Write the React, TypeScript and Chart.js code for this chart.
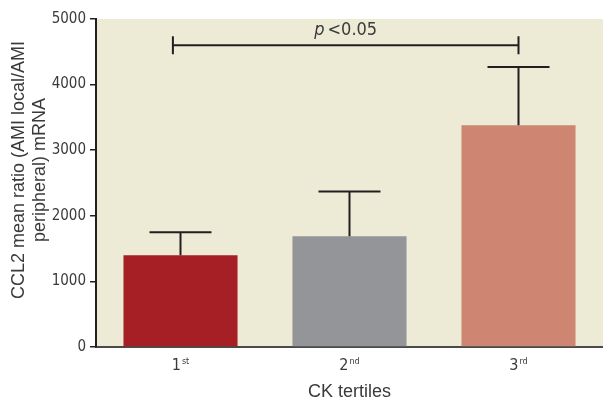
import React, { useEffect, useRef } from "react";
import { Chart, registerables } from "chart.js";

Chart.register(...registerables);

const categories = ["1", "2", "3"];
const superscripts = ["st", "nd", "rd"];
const meanValues = [1400, 1690, 3380];
const errorTops = [1750, 2370, 4270];
const barColors = ["#A61F24", "#939598", "#CE8672"];
const yTicks = [0, 1000, 2000, 3000, 4000, 5000];
const bracket = { from: -0.045, to: 2.0, y: 4600, label: "<0.05" };
const yTitleLines = ["CCL2 mean ratio (AMI local/AMI", "peripheral) mRNA"];
const xTitle = "CK tertiles";

const NARROW = "'Liberation Sans Narrow', 'DejaVu Sans Condensed', 'Liberation Sans', sans-serif";
const SANS = "'Liberation Sans', Arial, sans-serif";
const TEXT = "#3a3a3a";
const INK = "#231f20";

const decorPlugin = {
  id: "decor",
  beforeDraw(chart: any) {
    const { ctx, chartArea } = chart;
    ctx.save();
    ctx.fillStyle = "#EDEAD6";
    ctx.fillRect(chartArea.left, chartArea.top, chartArea.right - chartArea.left, chartArea.bottom - chartArea.top);
    ctx.restore();
  },
  afterDraw(chart: any) {
    const { ctx, chartArea } = chart;
    const xs = chart.scales.x;
    const ys = chart.scales.y;
    ctx.save();
    // error bars
    ctx.strokeStyle = INK;
    ctx.lineWidth = 2;
    meanValues.forEach((v, i) => {
      const cx = xs.getPixelForValue(i);
      const y0 = ys.getPixelForValue(v);
      const y1 = ys.getPixelForValue(errorTops[i]);
      ctx.beginPath();
      ctx.moveTo(cx, y0);
      ctx.lineTo(cx, y1);
      ctx.moveTo(cx - 31, y1);
      ctx.lineTo(cx + 31, y1);
      ctx.stroke();
    });
    // significance bracket
    const bx0 = xs.getPixelForValue(bracket.from);
    const bx1 = xs.getPixelForValue(bracket.to);
    const by = ys.getPixelForValue(bracket.y);
    ctx.beginPath();
    ctx.moveTo(bx0, by);
    ctx.lineTo(bx1, by);
    ctx.moveTo(bx0, by - 9);
    ctx.lineTo(bx0, by + 9);
    ctx.moveTo(bx1, by - 9);
    ctx.lineTo(bx1, by + 9);
    ctx.stroke();
    ctx.fillStyle = TEXT;
    ctx.textBaseline = "alphabetic";
    ctx.font = `italic 18px ${NARROW}`;
    const pW = ctx.measureText("p").width;
    ctx.font = `18px ${NARROW}`;
    const restW = ctx.measureText(bracket.label).width;
    const total = pW + 3 + restW;
    const mid = (bx0 + bx1) / 2;
    ctx.textAlign = "left";
    ctx.font = `italic 18px ${NARROW}`;
    ctx.fillText("p", mid - total / 2, by - 10);
    ctx.font = `18px ${NARROW}`;
    ctx.fillText(bracket.label, mid - total / 2 + pW + 3, by - 10);
    // x tick labels with superscripts
    categories.forEach((c, i) => {
      const cx = xs.getPixelForValue(i);
      ctx.font = `16px ${NARROW}`;
      const w1 = ctx.measureText(c).width;
      ctx.font = `9px ${NARROW}`;
      const w2 = ctx.measureText(superscripts[i]).width;
      const start = cx - (w1 + w2 + 1) / 2;
      ctx.textBaseline = "alphabetic";
      ctx.font = `16px ${NARROW}`;
      ctx.fillText(c, start, chartArea.bottom + 23);
      ctx.font = `9px ${NARROW}`;
      ctx.fillText(superscripts[i], start + w1 + 1, chartArea.bottom + 17);
    });
    // y title
    ctx.font = `18px ${SANS}`;
    ctx.textAlign = "center";
    ctx.textBaseline = "middle";
    const cy = (chartArea.top + chartArea.bottom) / 2 - 13;
    yTitleLines.forEach((line, k) => {
      ctx.save();
      ctx.translate(19 + k * 21, cy);
      ctx.rotate(-Math.PI / 2);
      ctx.fillText(line, 0, 0);
      ctx.restore();
    });
    ctx.restore();
  },
};

export default function App() {
  const ref = useRef<HTMLCanvasElement>(null);
  useEffect(() => {
    if (!ref.current) return;
    const chart = new Chart(ref.current, {
      type: "bar",
      data: {
        labels: categories,
        datasets: [
          {
            data: meanValues,
            backgroundColor: barColors,
            borderWidth: 0,
            categoryPercentage: 1,
            barPercentage: 0.675,
          },
        ],
      },
      options: {
        animation: false,
        responsive: true,
        maintainAspectRatio: false,
        layout: { padding: { top: 19, right: 0, left: 0, bottom: 0 } },
        plugins: { legend: { display: false }, tooltip: { enabled: false } },
        scales: {
          x: {
            grid: { display: false, drawTicks: false },
            border: { display: true, color: "#4a4a4a", width: 2 },
            ticks: { display: false },
            title: {
              display: true,
              text: xTitle,
              color: TEXT,
              font: { family: SANS, size: 18, lineHeight: 1.0 },
              padding: 0,
            },
            afterFit: (s: any) => {
              s.height = 54;
            },
          },
          y: {
            min: 0,
            max: 5000,
            afterBuildTicks: (s: any) => {
              s.ticks = yTicks.map((v) => ({ value: v }));
            },
            grid: { display: true, drawOnChartArea: false, drawTicks: true, tickLength: 6, color: INK, lineWidth: 1.5 },
            border: { display: true, color: INK, width: 2 },
            ticks: {
              color: TEXT,
              font: { family: NARROW, size: 15 },
              padding: 4,
              callback: (v: any) => String(v),
            },
            afterFit: (s: any) => {
              s.width = 96;
            },
          },
        },
      },
      plugins: [decorPlugin],
    });
    return () => chart.destroy();
  }, []);
  return (
    <div style={{ position: "absolute", left: 0, top: 0, width: 603, height: 401 }}>
      <canvas ref={ref} />
    </div>
  );
}
